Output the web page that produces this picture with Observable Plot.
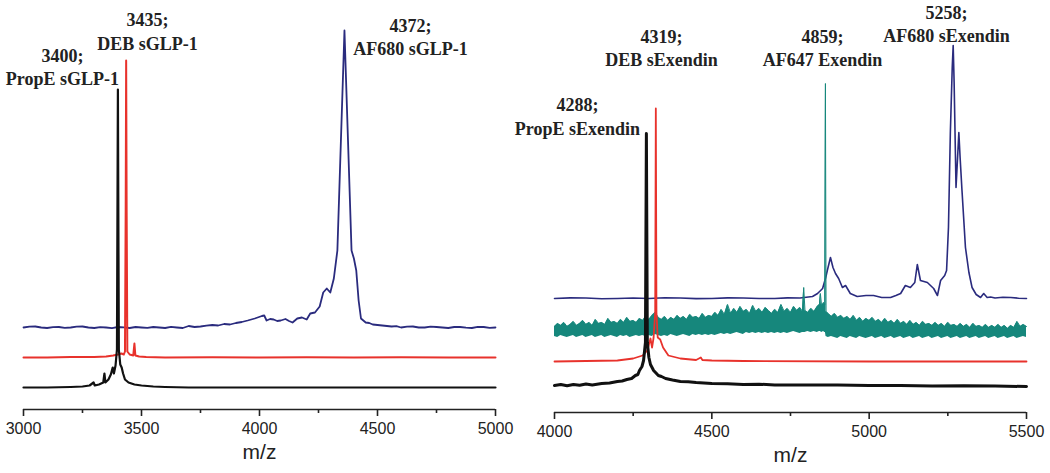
<!DOCTYPE html>
<html>
<head>
<meta charset="utf-8">
<script src="https://cdn.jsdelivr.net/npm/d3@7"></script>
<script src="https://cdn.jsdelivr.net/npm/@observablehq/plot@0.6"></script>
<style>
  html, body { margin: 0; padding: 0; background: #fff; }
  #wrap { display: flex; flex-direction: row; width: 1050px; height: 473px; }
  svg { display: block; overflow: visible; }
</style>
</head>
<body>
<div id="wrap"></div>
<script>
// ---------- Left panel: sGLP-1 conjugates (m/z, stacked intensity a.u.) ----------
const glpMajorTicks = [3000, 3500, 4000, 4500, 5000];
const glpMinorTicks = [3250, 3750, 4250, 4750];

const glpAF680 = [
  [3000,82],[3025,82.8],[3050,83],[3075,82],[3100,81.5],[3125,82.3],[3150,82.5],[3175,81.6],
  [3200,82],[3225,82.9],[3250,83],[3275,82],[3300,81.5],[3325,82.4],[3350,82],[3375,81.4],
  [3400,82.5],[3425,82.2],[3450,81.5],[3475,82.5],[3500,82],[3525,81.6],[3550,82.5],[3575,82],
  [3600,81.5],[3625,82.6],[3650,82],[3675,81.5],[3700,83.5],[3725,82.5],[3750,83],[3775,83.8],
  [3800,84.5],[3825,84],[3850,85.5],[3875,85],[3900,86.5],[3925,87.5],[3950,89],[3980,91],
  [4010,93.5],[4020,94],[4030,89],[4045,90.5],[4060,90],[4075,88.5],[4090,89],[4110,90.5],
  [4125,88.5],[4140,87],[4160,91],[4180,92],[4200,90],[4215,96],[4235,97],[4255,103],
  [4270,117],[4285,121],[4300,117],[4315,131],[4330,159],[4345,269],[4360,379],[4375,269],
  [4390,159],[4400,151],[4410,139],[4420,109],[4430,91],[4450,87],[4465,86.5],[4480,85],
  [4500,84.5],[4520,84],[4540,83.5],[4560,83],[4580,83.3],[4600,82],[4625,82.8],[4650,83],
  [4675,82],[4700,82],[4725,82.8],[4750,82.5],[4775,82],[4800,81.5],[4825,82.5],[4850,82.5],
  [4875,81.8],[4900,81.5],[4925,82.6],[4950,82.5],[4975,81.6],[5000,82]
];
const glpDEB = [
  [3000,52],[3100,52],[3200,52.5],[3300,52.5],[3350,53],[3380,54],[3400,55],[3415,56],
  [3425,55],[3430,58],[3433,200],[3435,349],[3437,200],[3440,58],[3450,55],[3465,54],
  [3470,66],[3474,54],[3490,53],[3520,52.5],[3600,52],[3800,52.3],[4000,52],[4200,52.3],
  [4400,52],[4600,52.3],[4800,52],[5000,52]
];
const glpPropE = [
  [3000,22],[3100,22],[3200,22.5],[3250,23],[3280,24],[3297,27],[3302,24],[3320,25],
  [3338,27],[3343,36],[3347,27],[3360,30],[3370,35],[3378,42],[3383,36],[3390,44],
  [3396,60],[3400,320],[3404,60],[3410,45],[3416,42],[3422,36],[3430,30],[3445,27],
  [3470,25],[3500,24],[3550,23],[3600,22.5],[3700,22],[4000,22],[4500,22],[5000,22]
];
const glpLabels = [
  {mz: 3165, y: 343.5, text: "3400;\nPropE sGLP-1"},
  {mz: 3525, y: 379,   text: "3435;\nDEB sGLP-1"},
  {mz: 4640, y: 373.5, text: "4372;\nAF680 sGLP-1"}
];

// ---------- Right panel: sExendin conjugates ----------
const exMajorTicks = [4000, 4500, 5000, 5500];
const exMinorTicks = [4250, 4750, 5250];

const exAF680 = [
  [4000,114],[4050,114.6],[4100,114.5],[4150,113.8],[4200,114],[4250,114.5],[4300,114],
  [4350,114.7],[4400,114.5],[4450,113.9],[4500,114],[4550,114.6],[4600,114.5],[4650,114],
  [4700,114],[4740,114.6],[4780,114.5],[4820,116],[4836,119],[4852,124],[4862,135],[4867,142],
  [4877,155],[4885,145],[4893,139],[4903,134],[4915,125],[4925,127],[4940,119],[4962,116],
  [4990,117],[5014,117],[5040,115],[5068,115],[5085,117],[5100,119],[5115,127],[5131,125],
  [5145,130],[5153,148],[5163,132],[5185,130],[5205,124],[5217,117],[5227,132],[5240,137],
  [5246,142],[5252,185],[5258,280],[5264,345],[5267,367],[5270,330],[5276,225],[5281,255],
  [5285,280],[5289,255],[5295,222],[5306,165],[5317,140],[5327,125],[5340,118],[5354,115],
  [5364,119],[5375,115],[5386,115.5],[5400,114.5],[5425,115.3],[5450,115],[5475,114.3],[5500,114]
];
// AF647 Exendin: noisy band, [m/z, lower, upper]
const exAF647 = [
  [4000,76,86],[4010,75,89],[4020,77,87],[4030,76,90],[4040,75,86],[4050,76,88],[4060,77,91],
  [4070,75,87],[4080,76,89],[4090,77,92],[4100,75,88],[4110,76,90],[4120,77,87],[4130,75,93],
  [4140,76,89],[4150,77,90],[4160,75,88],[4170,76,94],[4180,77,90],[4190,76,91],[4200,75,89],
  [4210,77,93],[4220,76,90],[4230,77,95],[4240,75,91],[4250,76,92],[4260,77,90],[4270,76,94],
  [4280,77,92],[4290,76,96],[4300,77,93],[4310,76,97],[4320,78,100],[4330,77,95],[4340,76,93],
  [4350,77,96],[4360,76,92],[4370,78,95],[4380,77,93],[4390,76,97],[4400,77,94],[4410,78,96],
  [4420,77,93],[4430,76,98],[4440,78,95],[4450,77,96],[4460,78,94],[4470,77,99],[4480,78,95],
  [4490,77,97],[4500,78,96],[4510,77,100],[4520,78,97],[4530,79,103],[4540,78,98],[4550,79,108],
  [4560,78,99],[4570,79,104],[4580,80,100],[4590,79,106],[4600,78,101],[4610,80,103],
  [4620,79,99],[4630,80,107],[4640,79,101],[4650,80,104],[4660,79,100],[4670,80,105],
  [4680,79,102],[4690,80,99],[4700,79,103],[4710,80,100],[4720,79,108],[4730,80,101],
  [4740,79,104],[4750,80,100],[4760,81,106],[4770,80,102],[4780,79,105],[4788,80,101],
  [4792,80,125],[4796,80,102],[4805,81,100],[4815,80,104],[4825,81,101],[4835,80,106],
  [4842,81,108],[4845,81,119],[4849,80,106],[4855,81,110],[4859,80,108],[4861,80,329],
  [4863,76,101],[4870,75,99],[4880,76,96],[4890,75,99],[4900,74,95],[4910,76,97],[4920,75,94],
  [4930,74,96],[4940,76,93],[4950,75,97],[4960,74,92],[4970,76,95],[4980,75,91],[4990,74,94],
  [5000,75,92],[5010,76,95],[5020,74,91],[5030,75,93],[5040,76,90],[5050,74,94],[5060,75,90],
  [5070,76,92],[5080,74,89],[5090,75,93],[5100,76,89],[5110,74,91],[5120,75,88],[5130,76,92],
  [5140,74,88],[5150,75,90],[5160,76,87],[5170,74,91],[5180,75,88],[5190,76,89],[5200,74,87],
  [5210,75,90],[5220,76,87],[5230,74,89],[5240,75,86],[5250,76,90],[5260,74,87],[5270,75,88],
  [5280,76,86],[5290,74,89],[5300,75,86],[5310,76,88],[5320,74,85],[5330,75,89],[5340,76,86],
  [5350,74,87],[5360,75,85],[5370,76,88],[5380,74,85],[5390,75,87],[5400,76,85],[5410,74,88],
  [5420,75,85],[5430,76,87],[5440,74,84],[5450,75,87],[5460,76,85],[5470,74,91],[5480,75,86],
  [5490,76,88],[5500,75,86]
];
const exDEB = [
  [4000,51],[4100,51.5],[4200,52],[4250,54],[4280,57],[4295,62],[4305,74],[4310,65],
  [4315,75],[4320,100],[4322,304],[4324,100],[4328,75],[4336,73],[4345,65],[4362,57],
  [4400,54],[4450,52.5],[4465,55],[4470,52.5],[4500,52],[4600,51.5],[5000,51],[5500,51]
];
const exPropE = [
  [4000,27],[4020,28],[4040,26.8],[4060,28],[4080,27.2],[4100,28.5],[4120,27.6],[4150,29],
  [4175,29.5],[4200,31],[4215,31.5],[4230,33],[4245,34],[4257,37],[4265,38],[4270,42],
  [4278,46],[4283,52],[4289,70],[4292,279],[4295,70],[4300,55],[4305,48],[4315,42],
  [4330,37],[4340,36],[4353,34],[4375,32.5],[4400,31],[4425,30.8],[4450,30],[4475,29.6],
  [4500,29],[4550,28.8],[4600,28],[4650,28.3],[4700,27.6],[4800,27.5],[4900,27.4],
  [5000,27],[5100,27.1],[5200,26.5],[5300,26.8],[5400,26.4],[5500,26]
];
const exLabels = [
  {mz: 4073, y: 297,   text: "4288;\nPropE sExendin"},
  {mz: 4340, y: 365.5, text: "4319;\nDEB sExendin"},
  {mz: 4852, y: 365.5, text: "4859;\nAF647 Exendin"},
  {mz: 5246, y: 389.5, text: "5258;\nAF680 sExendin"}
];

// ---------- styling ----------
const NAVY = "#2a2b7e", RED = "#e8322c", TEAL = "#16877c", BLACK = "#111";
const INK = "#222";
const mzX = d => d[0], intY = d => d[1];

function axisMarks(major, minor) {
  return [
    Plot.ruleY([0], {stroke: INK, strokeWidth: 1.6}),
    Plot.axisX({ticks: major, tickSize: 7, tickPadding: 6, stroke: INK, strokeWidth: 1.6,
      fill: INK, fontSize: 16, fontFamily: "Liberation Sans, Arial, sans-serif",
      tickFormat: d3.format("d"), label: null}),
    Plot.axisX({ticks: minor, tickSize: 4, stroke: INK, strokeWidth: 1.6,
      tickFormat: () => "", label: null}),
    Plot.text(["m/z"], {frameAnchor: "bottom", dy: 49, fontSize: 21, fill: INK,
      fontFamily: "Liberation Sans, Arial, sans-serif"})
  ];
}
function labelMarks(labels) {
  return Plot.text(labels, {x: "mz", y: "y", text: "text", fontSize: 18, fontWeight: "bold",
    fontFamily: "Liberation Serif, Times New Roman, serif", fill: INK, lineHeight: 1.3,
    textAnchor: "middle", lineAnchor: "middle"});
}

const left = Plot.plot({
  width: 525, height: 473,
  marginLeft: 23, marginRight: 30, marginTop: 19, marginBottom: 64,
  x: {domain: [3000, 5000]},
  y: {domain: [0, 390], axis: null},
  marks: [
    Plot.line(glpAF680, {x: mzX, y: intY, stroke: NAVY, strokeWidth: 1.8}),
    Plot.line(glpDEB, {x: mzX, y: intY, stroke: RED, strokeWidth: 2}),
    Plot.line(glpPropE, {x: mzX, y: intY, stroke: BLACK, strokeWidth: 2.2}),
    ...axisMarks(glpMajorTicks, glpMinorTicks),
    labelMarks(glpLabels)
  ]
});

const right = Plot.plot({
  width: 525, height: 473,
  marginLeft: 29, marginRight: 24, marginTop: 22, marginBottom: 61,
  x: {domain: [4000, 5500]},
  y: {domain: [0, 390], axis: null},
  marks: [
    Plot.line(exAF680, {x: mzX, y: intY, stroke: NAVY, strokeWidth: 1.6}),
    Plot.areaY(exAF647, {x: mzX, y1: d => d[1], y2: d => d[2], fill: TEAL}),
    Plot.line(exAF647, {x: mzX, y: d => d[2], stroke: TEAL, strokeWidth: 1}),
    Plot.line(exDEB, {x: mzX, y: intY, stroke: RED, strokeWidth: 1.8}),
    Plot.line(exPropE, {x: mzX, y: intY, stroke: BLACK, strokeWidth: 3}),
    ...axisMarks(exMajorTicks, exMinorTicks),
    labelMarks(exLabels)
  ]
});
left.style.overflow = "visible";
right.style.overflow = "visible";

document.getElementById("wrap").append(left, right);
</script>
</body>
</html>
